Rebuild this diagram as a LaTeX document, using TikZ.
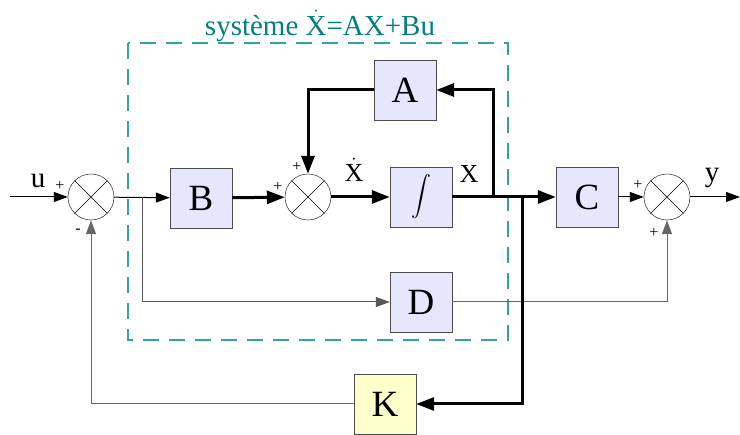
\documentclass[tikz,border=0pt]{standalone}
\usepackage{fontspec}
\setmainfont{Liberation Serif}
\usepackage{amsmath}
\usepackage{tikz}
\usetikzlibrary{arrows.meta,positioning}

\definecolor{boxblue}{HTML}{E6E6FF}
\definecolor{boxyellow}{HTML}{FFFFCC}
\definecolor{systeal}{HTML}{33A3A0}
\definecolor{titleteal}{HTML}{00807F}

\tikzset{
  bloc/.style={draw=black!70, fill=boxblue, minimum width=62pt, minimum height=60pt, inner sep=0pt,
    font=\fontsize{37}{40}\selectfont},
  somme/.style={draw, circle, minimum size=46pt, inner sep=0pt},
  fin/.style={line width=1pt, -{Triangle[length=14pt,width=10pt]}},
  gros/.style={line width=3pt, -{Triangle[length=18pt,width=13pt]}},
  signe/.style={font=\fontsize{16}{17}\selectfont, inner sep=0pt},
  lettre/.style={font=\fontsize{26}{28}\selectfont, inner sep=0pt}
}

\begin{document}
\begin{tikzpicture}[x=1pt, y=-1pt]
    \useasboundingbox (0,0) rectangle (740,435);
    % system frame
    \draw[systeal, line width=1.5pt, dash pattern=on 16pt off 10pt] (128,43) rectangle (508,340);
    \node[titleteal, font=\fontsize{29}{30}\selectfont] (titre) at (320,26) {système $\dot{\text{X}}$=AX+Bu};

    % blocks
    \node[bloc] (B) at (201,198) {B};
    \node[bloc] (int) at (421,197) {\scalebox{0.8}{$\displaystyle\int$}};
    \node[bloc] (A) at (405,90) {A};
    \node[bloc] (C) at (587,197) {C};
    \node[bloc] (D) at (421,302) {D};
    \node[bloc, fill=boxyellow] (K) at (385,404) {K};

    % summing points
    \foreach \s/\x in {s1/91, s2/308, s3/667} {
      \node[somme] (\s) at (\x,197) {};
      \draw (\s.north west) -- (\s.south east) (\s.north east) -- (\s.south west);
    }

    \coordinate (in) at (10,197);
    \coordinate (out) at (740,197);
    \coordinate (br) at (142,197);
    \coordinate (xa) at (493,197);
    \coordinate (xk) at (522,197);

    % thin links
    \draw[fin] (in) -- (s1);
    \draw[fin] (s1) -- (B);
    \draw[fin, draw=black!65] (br) |- (D);
    \draw[fin] (C) -- (s3);
    \draw[fin] (s3) -- (out);
    \draw[fin, draw=black!60] (D) -| (s3);
    \draw[fin, draw=black!60] (K) -| (s1);

    % thick links
    \draw[gros] (B) -- (s2);
    \draw[gros] (s2) -- (int);
    \draw[gros] (int) -- (C);
    \draw[gros] (xa) |- (A);
    \draw[gros] (A) -| (s2);
    \draw[gros] (xk) |- (K);

    % labels
    \node[lettre, font=\fontsize{29}{30}\selectfont] (lu) at (38,181) {u};
    \node[lettre, font=\fontsize{29}{30}\selectfont] (ly) at (712,178) {y};
    \node[lettre] (lxp) at (354,170) {$\dot{\text{X}}$};
    \node[lettre] (lx) at (469,174) {X};
    \node[signe] (p1) at (60,186) {+};
    \node[signe] (m1) at (78,231) {-};
    \node[signe] (p2) at (278,187) {+};
    \node[signe] (p3) at (297,167) {+};
    \node[signe] (p4) at (638,185) {+};
    \node[signe] (p5) at (654,233) {+};
\end{tikzpicture}
\end{document}
